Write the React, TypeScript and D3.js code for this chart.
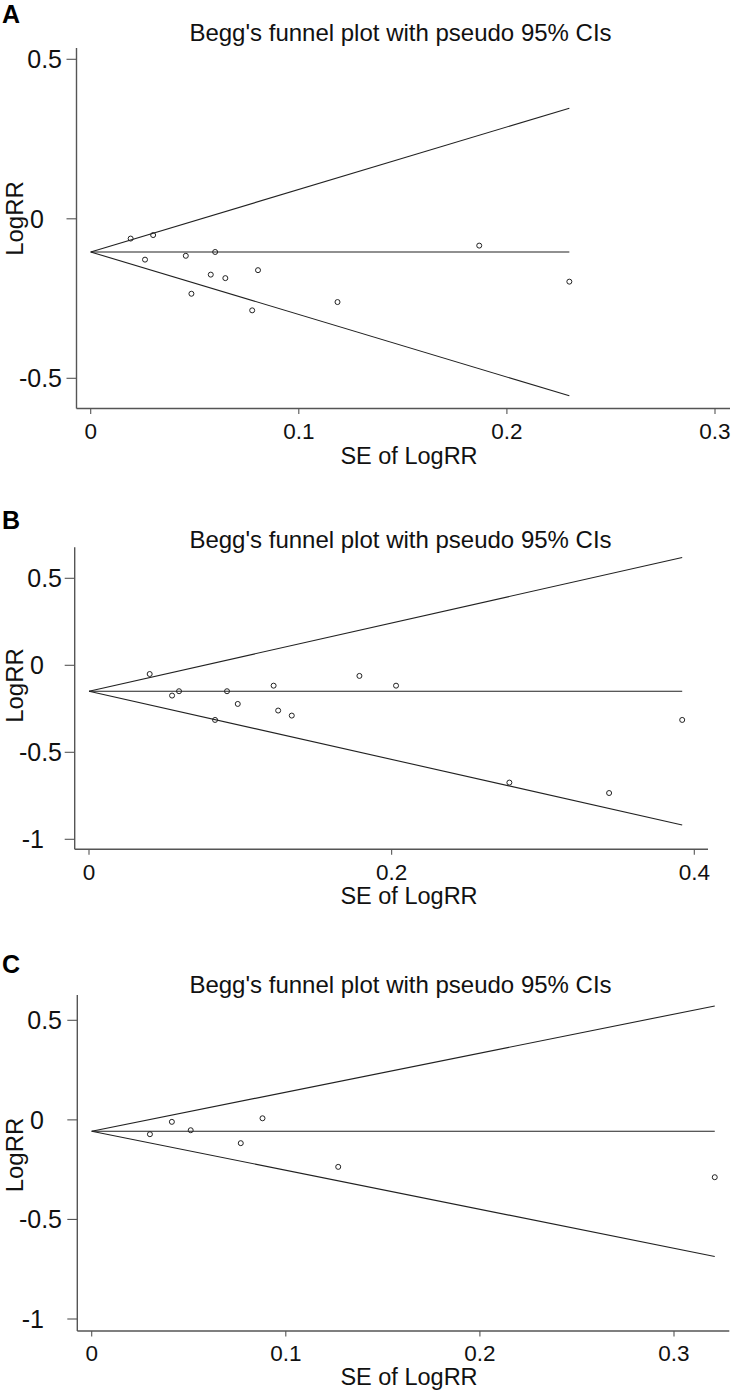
import React from "react";
import * as d3 from "d3";

// ---------- DATA ----------
const titleText = "Begg's funnel plot with pseudo 95% CIs";
const xTitle = "SE of LogRR";
const yTitle = "LogRR";

// Panel A
const seA = [0.0192, 0.030, 0.0261, 0.0457, 0.0598, 0.0577, 0.0647, 0.0804, 0.0484, 0.0776, 0.1186, 0.1867, 0.230];
const logrrA = [-0.062, -0.051, -0.128, -0.116, -0.104, -0.175, -0.186, -0.161, -0.235, -0.287, -0.261, -0.084, -0.197];
const pooledA = -0.104;
const xTicksA = [0, 0.1, 0.2, 0.3];
const yTicksA = [-0.5, 0, 0.5];

// Panel B
const seB = [0.0401, 0.0549, 0.0595, 0.0833, 0.0912, 0.0983, 0.122, 0.125, 0.134, 0.1787, 0.2029, 0.2778, 0.3437, 0.392];
const logrrB = [-0.050, -0.174, -0.149, -0.314, -0.149, -0.222, -0.117, -0.260, -0.289, -0.061, -0.117, -0.674, -0.734, -0.314];
const pooledB = -0.149;
const xTicksB = [0, 0.2, 0.4];
const yTicksB = [-1, -0.5, 0, 0.5];

// Panel C
const seC = [0.030, 0.0413, 0.051, 0.0768, 0.088, 0.127, 0.321];
const logrrC = [-0.072, -0.010, -0.052, -0.117, 0.008, -0.236, -0.288];
const pooledC = -0.057;
const xTicksC = [0, 0.1, 0.2, 0.3];
const yTicksC = [-1, -0.5, 0, 0.5];

// ---------- LAYOUT ----------
const FONT = "'Liberation Sans', Arial, Helvetica, sans-serif";

const panels = [
  {
    letter: "A", se: seA, logrr: logrrA, pooled: pooledA, xTicks: xTicksA, yTicks: yTicksA,
    xDom: [0, 0.3], xRng: [90.7, 715], yDom: [-0.5, 0.5], yRng: [378.3, 59.3],
    left: 76.5, right: 730, top: 48, bottom: 408.5,
    letterY: 22.7, titleY: 40.5, tickLabelY: 439.3, xTitleY: 464, yTitleY: 218.5,
  },
  {
    letter: "B", se: seB, logrr: logrrB, pooled: pooledB, xTicks: xTicksB, yTicks: yTicksB,
    xDom: [0, 0.4], xRng: [89, 694.3], yDom: [-1, 0.5], yRng: [839.3, 578.3],
    left: 74.7, right: 708, top: 547.3, bottom: 849.3,
    letterY: 529, titleY: 548, tickLabelY: 880, xTitleY: 904, yTitleY: 685.5,
  },
  {
    letter: "C", se: seC, logrr: logrrC, pooled: pooledC, xTicks: xTicksC, yTicks: yTicksC,
    xDom: [0, 0.3], xRng: [91.7, 674], yDom: [-1, 0.5], yRng: [1319, 1020.3],
    left: 77.3, right: 729.3, top: 995, bottom: 1331,
    letterY: 972.5, titleY: 993.3, tickLabelY: 1360.7, xTitleY: 1384.5, yTitleY: 1155,
  },
];

const LINE = "#222";
const AXIS = "#555";
const TEXT = "#111";

function Panel({ p }: { p: any }) {
  const x = d3.scaleLinear().domain(p.xDom).range(p.xRng);
  const y = d3.scaleLinear().domain(p.yDom).range(p.yRng);
  const maxSE = d3.max(p.se as number[]) as number;
  const z = 1.96;
  const line = d3.line<[number, number]>().x((d) => x(d[0])).y((d) => y(d[1]));
  const upper = line([[0, p.pooled], [maxSE, p.pooled + z * maxSE]]) as string;
  const lower = line([[0, p.pooled], [maxSE, p.pooled - z * maxSE]]) as string;
  const mid = line([[0, p.pooled], [maxSE, p.pooled]]) as string;
  const pts = (p.se as number[]).map((s, i) => [s, p.logrr[i]]);

  return (
    <g>
      <text x={2} y={p.letterY} fontFamily={FONT} fontWeight="bold" fontSize={25} fill="#000">{p.letter}</text>
      <text x={400.5} y={p.titleY} fontFamily={FONT} fontSize={24} fill={TEXT} textAnchor="middle">{titleText}</text>

      {/* axes */}
      <line x1={p.left} x2={p.left} y1={p.top} y2={p.bottom} stroke={AXIS} strokeWidth={1.4} />
      <line x1={p.left} x2={p.right} y1={p.bottom} y2={p.bottom} stroke={AXIS} strokeWidth={1.4} />

      {p.yTicks.map((t: number) => {
        const isInt = Number.isInteger(t);
        return (
          <g key={"y" + t}>
            <line x1={p.left - 10} x2={p.left} y1={y(t)} y2={y(t)} stroke={AXIS} strokeWidth={1.1} />
            <text x={isInt ? 44 : 62} y={y(t) + 9} fontFamily={FONT} fontSize={25} fill={TEXT} textAnchor="end">{String(t)}</text>
          </g>
        );
      })}
      {p.xTicks.map((t: number) => (
        <g key={"x" + t}>
          <line x1={x(t)} x2={x(t)} y1={p.bottom} y2={p.bottom + 5.5} stroke={AXIS} strokeWidth={1.1} />
          <text x={x(t)} y={p.tickLabelY} fontFamily={FONT} fontSize={22.5} fill={TEXT} textAnchor="middle">{String(t)}</text>
        </g>
      ))}

      <text x={409} y={p.xTitleY} fontFamily={FONT} fontSize={23.5} fill={TEXT} textAnchor="middle">{xTitle}</text>
      <text transform={`translate(23,${p.yTitleY}) rotate(-90)`} fontFamily={FONT} fontSize={24} fill={TEXT} textAnchor="middle">{yTitle}</text>

      {/* funnel */}
      <path d={upper} stroke={LINE} strokeWidth={1.1} fill="none" />
      <path d={lower} stroke={LINE} strokeWidth={1.1} fill="none" />
      <path d={mid} stroke={LINE} strokeWidth={1.1} fill="none" />

      {pts.map((d, i) => (
        <circle key={i} cx={x(d[0])} cy={y(d[1])} r={2.5} fill="none" stroke={LINE} strokeWidth={1} />
      ))}
    </g>
  );
}

export default function App() {
  return (
    <div style={{ position: "absolute", left: 0, top: 0, width: 738, height: 1391, background: "#fff" }}>
      <svg width={738} height={1391} viewBox="0 0 738 1391" style={{ display: "block" }}>
        <rect x={0} y={0} width={738} height={1391} fill="#fff" />
        {panels.map((p) => (
          <Panel key={p.letter} p={p} />
        ))}
      </svg>
    </div>
  );
}
